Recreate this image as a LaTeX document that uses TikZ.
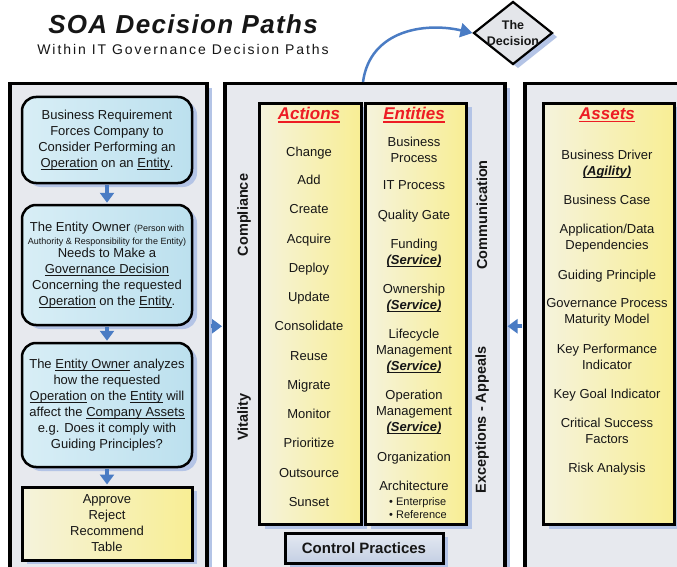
\documentclass[tikz,border=0pt]{standalone}
\usepackage{fontspec}
\setmainfont{Liberation Sans}
\usetikzlibrary{shapes.geometric,arrows.meta,shadows}
\definecolor{panelfill}{HTML}{E7E9EE}
\definecolor{shadowc}{HTML}{B4C4E6}
\definecolor{boxL}{HTML}{D8EEF6}
\definecolor{boxR}{HTML}{BCE0EE}
\definecolor{yelL}{HTML}{F5F3DC}
\definecolor{yelR}{HTML}{F8EE94}
\definecolor{arrowc}{HTML}{4A7CC4}
\definecolor{hred}{HTML}{ED1C24}
\definecolor{txt}{HTML}{161616}
\definecolor{decfill}{HTML}{E4E6EA}
\definecolor{cpT}{HTML}{E4E9F2}
\definecolor{cpB}{HTML}{C4CFE3}
\newcommand\ulline[3]{\setbox0\hbox{#3}\leavevmode\rlap{\rule[#1]{\wd0}{#2}}\box0\relax}
\newcommand\uln[1]{\ulline{-2.2pt}{0.8pt}{#1}}
\newcommand\ulh[1]{\ulline{-3pt}{1.3pt}{#1}}
\newcommand\svc{\uln{\bfseries\itshape (Service)}}
\tikzset{
  shadowed/.style={drop shadow={shadow xshift=5pt, shadow yshift=-4pt, fill=shadowc, opacity=1}},
  panel/.style={draw=black, line width=3.5pt, fill=panelfill, shadowed, anchor=north west, inner sep=0pt},
  lbox/.style={draw=black, line width=2.5pt, rounded corners=14pt, left color=boxL, right color=boxR, shadowed,
    minimum width=170pt, align=center, inner sep=0pt, text=txt, font=\fontsize{13}{16}\selectfont},
  col/.style={draw=black, line width=3pt, left color=yelL, right color=yelR, shadowed, anchor=north west, inner sep=0pt},
  itm/.style={font=\fontsize{13}{16}\selectfont, text=txt, inner sep=0pt, anchor=base},
  itmm/.style={font=\fontsize{13}{16}\selectfont, text=txt, inner sep=0pt, align=center},
  subitm/.style={font=\fontsize{11}{12.5}\selectfont, text=txt, inner sep=0pt, anchor=base west},
  hdr/.style={font=\fontsize{17}{20}\selectfont\bfseries\itshape, text=hred, inner sep=0pt},
  side/.style={font=\fontsize{14.5}{17}\selectfont\bfseries, text=txt, rotate=90, inner sep=0pt},
  barrow/.style={draw=arrowc, line width=4pt, -{Triangle[length=10pt,width=14pt]}},
  carrow/.style={draw=arrowc, line width=2.5pt, -{Triangle[length=12pt,width=14pt]}},
}
\begin{document}
\begin{tikzpicture}[x=1pt,y=-1pt]
\useasboundingbox (0,0) rectangle (677,567);
\clip (0,0) rectangle (677,567);
\fill[white] (0,0) rectangle (677,567);

% title
\node[font=\fontsize{26}{30}\selectfont\bfseries\itshape\addfontfeature{LetterSpace=5}, text=txt] (title) at (183,24) {SOA Decision Paths};
\node[font=\fontsize{14}{17}\selectfont\addfontfeature{LetterSpace=14}, text=txt] (sub) at (183,49) {Within IT Governance Decision Paths};

% panels
\node[panel, minimum width=197pt, minimum height=540pt] (lp) at (8,82) {};
\node[panel, minimum width=280pt, minimum height=540pt] (mp) at (223,82) {};
\node[panel, minimum width=200pt, minimum height=540pt] (rp) at (523,82) {};

% decision
\node[diamond, draw=black, line width=2.2pt, fill=decfill, minimum width=79pt, minimum height=63pt, inner sep=0pt, shadowed] (dec) at (513,33) {};
\node[font=\fontsize{12.5}{16}\selectfont\bfseries, text=txt, align=center, inner sep=0pt] (dect) at (513,33) {The\\Decision};
\coordinate (cs) at (363,82);
\draw[carrow] (cs) .. controls (370,30) and (425,22) .. (dec.west);

% left boxes
\node[lbox, minimum height=86pt] (b1) at (107,140) {Business Requirement\\Forces Company to\\Consider Performing an\\\uln{Operation} on an \uln{Entity}.};
\node[lbox, minimum height=120pt] (b2) at (107,265) {The Entity Owner {\fontsize{9}{10}\selectfont (Person with}\\[-3pt]{\fontsize{9}{10}\selectfont Authority \& Responsibility for the Entity)}\\[-3pt]Needs to Make a\\\uln{Governance Decision}\\Concerning the requested\\\uln{Operation} on the \uln{Entity}.};
\node[lbox, minimum height=124pt] (b3) at (107,405) {The \uln{Entity Owner} analyzes\\how the requested\\\uln{Operation} on the \uln{Entity} will\\affect the \uln{Company Assets}\\e.g. Does it comply with\\Guiding Principles?};
\node[draw=black, line width=3pt, left color=yelL, right color=yelR, shadowed, minimum width=170pt, minimum height=73pt, align=center, inner sep=0pt, text=txt, font=\fontsize{13}{16}\selectfont] (b4) at (107,523.5) {Approve\\Reject\\Recommend\\Table};
\draw[barrow, shorten <=1pt, shorten >=1pt] (b1.south) -- (b2.north);
\draw[barrow, shorten <=1pt, shorten >=1pt] (b2.south) -- (b3.north);
\draw[barrow, shorten <=1pt, shorten >=1pt] (b3.south) -- (b4.north);

% side arrows
\draw[barrow, shorten >=1pt] ([xshift=2pt]lp.east |- b2.south) -- (mp.west |- b2.south);
\draw[barrow, shorten >=1pt] ([xshift=-1pt]rp.west |- b2.south) -- (mp.east |- b2.south);

% middle columns
\node[col, minimum width=102pt, minimum height=421pt] (cact) at (258,102) {};
\node[col, minimum width=101pt, minimum height=421pt] (cent) at (364,102) {};
\node[col, minimum width=131pt, minimum height=421pt] (cass) at (542,102) {};

\node[hdr] (hact) at (309,115) {\ulh{Actions}};
\node[hdr] (hent) at (414,115) {\ulh{Entities}};
\node[hdr] (hass) at (607,115) {\ulh{Assets}};

% side labels
\node[side] (scomp) at (244,215) {Compliance};
\node[side] (svit) at (244,417) {Vitality};
\node[side] (scomm) at (482,215) {Communication};
\node[side] (sexc) at (482,420) {Exceptions - Appeals};

% actions
\node[itm] (a1) at (309,156.7) {Change};
\node[itm] (a2) at (309,184.7) {Add};
\node[itm] (a3) at (309,213.7) {Create};
\node[itm] (a4) at (309,243.7) {Acquire};
\node[itm] (a5) at (309,272.7) {Deploy};
\node[itm] (a6) at (309,301.7) {Update};
\node[itm] (a7) at (309,330.7) {Consolidate};
\node[itm] (a8) at (309,360.7) {Reuse};
\node[itm] (a9) at (309,389.7) {Migrate};
\node[itm] (a10) at (309,418.2) {Monitor};
\node[itm] (a11) at (309,447.7) {Prioritize};
\node[itm] (a12) at (309,477.7) {Outsource};
\node[itm] (a13) at (309,506.7) {Sunset};

% entities
\node[itmm] (e1) at (414,149.5) {Business\\Process};
\node[itm] (e2) at (414,189.7) {IT Process};
\node[itm] (e3) at (414,219.7) {Quality Gate};
\node[itmm] (e4) at (414,253) {Funding\\\svc};
\node[itmm] (e5) at (414,298) {Ownership\\\svc};
\node[itmm] (e6) at (414,351.5) {Lifecycle\\Management\\\svc};
\node[itmm] (e7) at (414,412.5) {Operation\\Management\\\svc};
\node[itm] (e8) at (414,461.2) {Organization};
\node[itm] (e9) at (414,490.7) {Architecture};
\node[subitm] (e10) at (389,505.5) {• Enterprise};
\node[subitm] (e11) at (389,518) {• Reference};

% assets
\node[itmm] (s1) at (607,164.5) {Business Driver\\\uln{\itshape\bfseries (Agility)}};
\node[itm] (s2) at (607,204.7) {Business Case};
\node[itmm] (s3) at (607,238.3) {Application/Data\\Dependencies};
\node[itm] (s4) at (607,279) {Guiding Principle};
\node[itmm] (s5) at (607,312.3) {Governance Process\\Maturity Model};
\node[itmm] (s6) at (607,356.5) {Key Performance\\Indicator};
\node[itm] (s7) at (607,398.7) {Key Goal Indicator};
\node[itmm] (s8) at (607,431) {Critical Success\\Factors};
\node[itm] (s9) at (607,472.7) {Risk Analysis};

% control practices
\node[draw=black, line width=3pt, top color=cpT, bottom color=cpB, shadowed, minimum width=158pt, minimum height=30pt, inner sep=0pt, text=txt, font=\fontsize{15}{18}\selectfont\bfseries] (cp) at (364,548) {Control Practices};
\end{tikzpicture}
\end{document}
